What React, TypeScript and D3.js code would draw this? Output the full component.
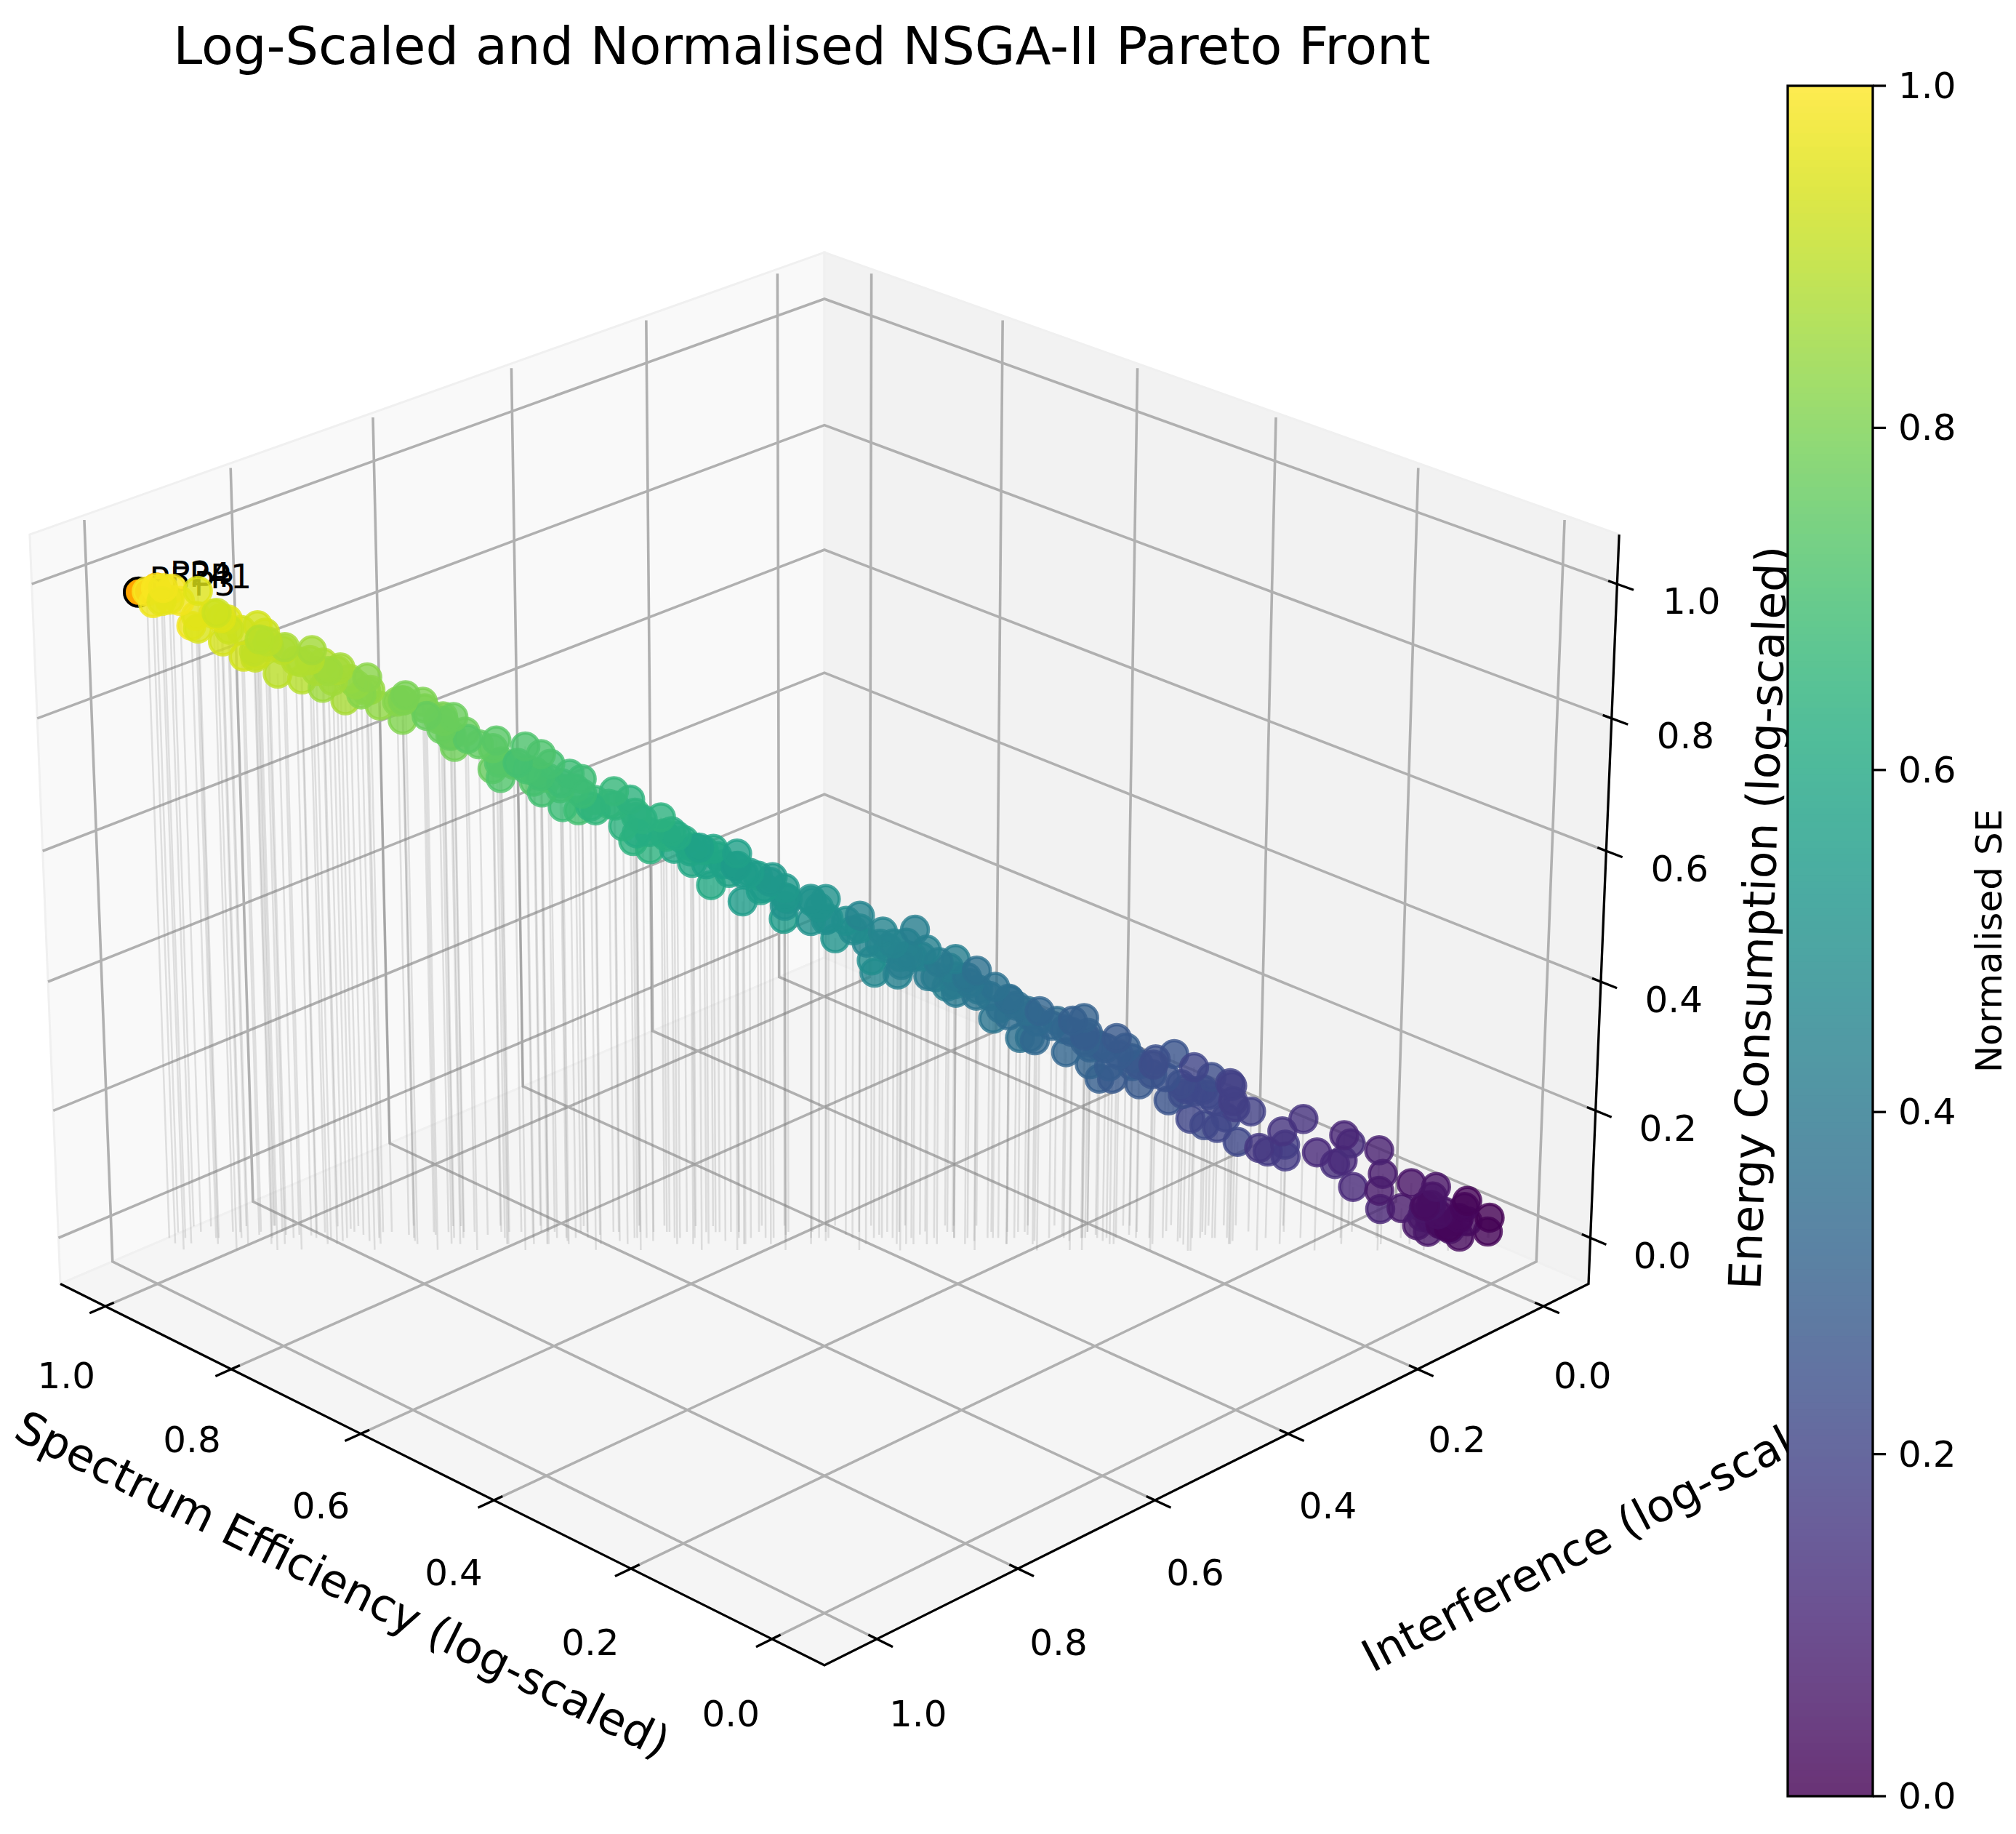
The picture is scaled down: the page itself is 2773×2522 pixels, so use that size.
import React, { useRef, useEffect } from 'react';
import * as d3 from 'd3';

// normalised objectives, ordered along the front
const seValues = [
  .990,.976,.993,.978,.992,.964,.959,.977,.953,.979,.943,.955,.953,.919,.953,.936,.921,.932,.932,.888,
  .913,.916,.893,.933,.897,.871,.889,.880,.861,.884,.869,.854,.862,.857,.869,.822,.816,.834,.833,.828,
  .794,.807,.802,.769,.798,.770,.769,.780,.792,.739,.739,.746,.726,.763,.718,.703,.717,.700,.696,.733,
  .686,.681,.687,.693,.700,.657,.651,.664,.642,.659,.637,.640,.638,.617,.640,.612,.600,.626,.616,.572,
  .597,.591,.577,.603,.564,.545,.580,.555,.550,.567,.538,.530,.537,.550,.509,.510,.509,.500,.512,.497,
  .454,.484,.457,.423,.485,.463,.436,.463,.460,.423,.435,.435,.406,.423,.418,.368,.414,.403,.385,.430,
  .374,.354,.385,.370,.406,.354,.321,.360,.348,.297,.308,.365,.334,.368,.321,.288,.313,.305,.274,.296,
  .296,.277,.313,.289,.291,.245,.237,.276,.261,.206,.234,.255,.221,.232,.219,.208,.227,.208,.188,.221,
  .199,.187,.193,.212,.157,.170,.166,.150,.176,.144,.114,.129,.114,.104,.127,.087,.074,.115,.067,.104,
  .069,.053,.053,.033,.065,.057,.058,.010,.022,.042,.014,.025,.003,.004,.072,.030,.029,.047,
  // inside of the dense stretches of the band
  .947,.928,.903,.908,.898,.888,.883,.855,.870,.850,.835,.840,.816,.801,.796,.791,.777,.762,.772,.757,
  .752,.727,.737,.707,.722,.697,.712,.687,.692,.677,.673,.668,.648,.648,.633,.623,.628,.608,.613,.588,
  .598,.588,.569,.574,.549,.559,.544,.534,.524,.519,.504,.494,.489,.479,.459,.464,.449,.454,.429,.434,
  .413,.418,.403,.393,.383,.378,.373,.358,.353,.338,.332,.327,.312,.307,.302,.287,.282,.277,.267,.257,
  .247,.230,.225,.220,.210,.190,.057,.042,.037,.052,.032,.047,.021,
];
const interferenceValues = [
  .990,.994,.975,.978,.954,.982,.997,.957,.953,.941,.963,.955,.933,.958,.914,.936,.940,.912,.892,.928,
  .913,.896,.913,.893,.897,.909,.871,.880,.881,.846,.869,.874,.842,.857,.830,.841,.855,.814,.833,.788,
  .814,.807,.783,.808,.759,.770,.788,.760,.753,.779,.739,.726,.746,.723,.718,.743,.697,.700,.716,.693,
  .686,.701,.668,.693,.661,.677,.690,.644,.642,.619,.657,.640,.618,.657,.600,.612,.620,.606,.577,.611,
  .597,.572,.596,.564,.564,.585,.560,.555,.570,.527,.538,.550,.517,.510,.549,.510,.489,.520,.472,.497,
  .494,.464,.457,.444,.445,.463,.456,.443,.419,.464,.435,.414,.426,.383,.418,.408,.394,.403,.405,.389,
  .374,.374,.365,.370,.366,.374,.362,.340,.307,.337,.308,.345,.355,.327,.321,.328,.293,.305,.294,.256,
  .296,.297,.293,.289,.251,.265,.277,.256,.219,.248,.234,.233,.243,.192,.219,.250,.207,.208,.208,.180,
  .199,.207,.172,.171,.198,.170,.146,.170,.136,.144,.155,.109,.114,.124,.087,.087,.095,.095,.108,.063,
  .069,.073,.033,.073,.024,.057,.038,.032,.022,.021,.056,.025,.003,.004,.032,.051,.008,.047,
  .928,.918,.923,.898,.888,.880,.865,.865,.840,.840,.845,.821,.806,.811,.786,.772,.777,.782,.752,.747,
  .732,.747,.717,.727,.702,.717,.692,.697,.673,.677,.663,.648,.658,.628,.633,.633,.608,.608,.593,.608,
  .579,.569,.579,.554,.569,.539,.544,.524,.534,.499,.504,.504,.479,.479,.479,.454,.449,.434,.449,.423,
  .434,.398,.403,.393,.393,.378,.353,.358,.343,.348,.332,.317,.322,.307,.292,.297,.282,.267,.267,.257,
  .247,.242,.225,.210,.210,.200,.047,.032,.047,.042,.021,.026,.032,
];
const energyValues = [
  .989,.979,.987,.994,.978,.984,.990,.967,.990,.923,.942,.953,.948,.973,.932,.915,.940,.884,.923,.934,
  .891,.920,.923,.879,.867,.922,.851,.884,.910,.868,.871,.854,.868,.856,.811,.869,.852,.811,.841,.811,
  .843,.798,.817,.820,.787,.802,.792,.749,.759,.786,.767,.727,.719,.707,.758,.750,.738,.732,.697,.688,
  .717,.675,.701,.695,.645,.670,.684,.682,.678,.641,.646,.615,.594,.644,.634,.630,.612,.613,.589,.622,
  .582,.595,.588,.531,.596,.594,.558,.567,.532,.523,.560,.562,.518,.479,.534,.527,.518,.502,.449,.497,
  .519,.473,.477,.489,.415,.414,.420,.443,.442,.444,.438,.440,.439,.417,.407,.435,.387,.383,.416,.374,
  .392,.383,.334,.359,.370,.357,.373,.346,.321,.358,.344,.304,.319,.295,.291,.335,.289,.321,.322,.280,
  .250,.259,.263,.269,.251,.289,.290,.232,.269,.287,.226,.206,.244,.234,.233,.207,.168,.173,.248,.170,
  .243,.224,.189,.132,.161,.136,.119,.177,.128,.187,.154,.107,.122,.171,.130,.138,.111,.071,.094,.026,
  .047,.096,.071,.070,.046,.020,.000,.069,.049,.004,.037,.002,.032,.010,.014,.032,.016,.052,
  .942,.928,.908,.903,.898,.883,.880,.875,.860,.855,.855,.835,.821,.831,.811,.791,.796,.782,.772,.757,
  .747,.742,.722,.732,.712,.722,.702,.707,.687,.687,.673,.663,.673,.643,.648,.633,.618,.623,.608,.608,
  .593,.584,.584,.569,.574,.554,.544,.539,.534,.514,.514,.499,.489,.479,.469,.454,.459,.429,.449,.434,
  .418,.413,.408,.398,.383,.378,.363,.363,.343,.343,.332,.322,.327,.307,.297,.302,.287,.277,.272,.257,
  .252,.247,.230,.220,.215,.210,.042,.037,.042,.026,.021,.010,.037,
];

// the two annotated solutions that still show under the front
const highlightSe = [.996, .983];
const highlightInterference = [.996, .983];
const highlightEnergy = [.988, .996];
const highlightEdge = ['#000', 'none'];

const pointNames = ['P5', 'P2', 'P4', 'P3', 'P1'];
const pointSe = [.988, .973, .959, .956, .944];
const pointInterference = [.988, .973, .959, .956, .944];
const pointEnergy = [.989, .998, .996, .983, .994];

const axisTicks = [0, 0.2, 0.4, 0.6, 0.8, 1];

const width = 2773;
const height = 2522;
const fontFamily = '"DejaVu Sans", sans-serif';

function App() {
  const svgRef = useRef<SVGSVGElement>(null);

  useEffect(() => {
    const svg = d3.select(svgRef.current);
    svg.selectAll('*').remove();

    // view_init(elev=25, azim=135), box aspect 4:4:3, camera distance 10
    const elev = (25 * Math.PI) / 180;
    const azim = (135 * Math.PI) / 180;
    const dist = 10;
    const w = [Math.cos(elev) * Math.cos(azim), Math.cos(elev) * Math.sin(azim), Math.sin(elev)];
    const un = Math.hypot(w[0], w[1]);
    const u = [-w[1] / un, w[0] / un, 0];
    const v = [w[1] * u[2] - w[2] * u[1], w[2] * u[0] - w[0] * u[2], w[0] * u[1] - w[1] * u[0]];

    const worldX = d3.scaleLinear().domain([-0.05, 1.05]).range([-0.5953, 0.5953]);
    const worldY = d3.scaleLinear().domain([-0.05, 1.05]).range([-0.5953, 0.5953]);
    const worldZ = d3.scaleLinear().domain([-0.05, 1.05]).range([-0.4464, 0.4464]);

    const screenX = d3.scaleLinear().domain([-0.1, 0.1]).range([1134 - 1222, 1134 + 1222]);
    const screenY = d3.scaleLinear().domain([-0.1, 0.1]).range([1260.4 + 1222, 1260.4 - 1222]);

    const project = (x: number, y: number, z: number): [number, number] => {
      const p = [worldX(x), worldY(y), worldZ(z)];
      const dot = (a: number[]) => a[0] * p[0] + a[1] * p[1] + a[2] * p[2];
      const depth = dist - dot(w);
      return [screenX(dot(u) / depth), screenY(dot(v) / depth)];
    };

    const lo = -0.05 - 1.1 / 48;
    const hi = 1.05 + 1.1 / 48;
    const delta = 1.1 / 12;
    const line = d3.line();

    const pane = (pts: [number, number, number][], fill: string) =>
      svg.append('path')
        .attr('d', line(pts.map(p => project(p[0], p[1], p[2]))) + 'Z')
        .attr('fill', fill)
        .attr('stroke', '#f0f0f0')
        .attr('stroke-width', 3);

    pane([[hi, lo, lo], [hi, hi, lo], [hi, hi, hi], [hi, lo, hi]], '#f9f9f9');
    pane([[lo, lo, lo], [hi, lo, lo], [hi, lo, hi], [lo, lo, hi]], '#f2f2f2');
    pane([[lo, lo, lo], [hi, lo, lo], [hi, hi, lo], [lo, hi, lo]], '#f5f5f5');

    const grid = svg.append('g').attr('fill', 'none').attr('stroke', '#b0b0b0').attr('stroke-width', 3.6);
    const polyline = (g: any, pts: [number, number, number][]) =>
      g.append('path').attr('d', line(pts.map(p => project(p[0], p[1], p[2]))));

    axisTicks.forEach(t => {
      polyline(grid, [[t, hi, lo], [t, lo, lo], [t, lo, hi - 0.007]]);
      polyline(grid, [[lo, t, lo], [hi, t, lo], [hi, t, hi - 0.007]]);
      polyline(grid, [[hi, hi, t], [hi, lo, t], [lo, lo, t]]);
    });

    const axes = svg.append('g').attr('fill', 'none').attr('stroke', '#000').attr('stroke-width', 3.3);
    polyline(axes, [[hi, hi, lo], [lo, hi, lo], [lo, lo, lo], [lo, lo, hi]]);

    const out = 0.24 * delta;
    const inn = 0.13 * delta;
    const labels = svg.append('g')
      .attr('font-family', fontFamily)
      .attr('font-size', 50)
      .attr('text-anchor', 'middle')
      .attr('dominant-baseline', 'central');

    const tickLabel = (pos: [number, number], t: number) =>
      labels.append('text').attr('x', pos[0]).attr('y', pos[1]).text(d3.format('.1f')(t));

    axisTicks.forEach(t => {
      polyline(axes, [[t, hi + out, lo], [t, hi - inn, lo]]);
      tickLabel(project(t, hi + 0.057, lo - 0.0825), t);
      polyline(axes, [[lo - out, t, lo], [lo + inn, t, lo]]);
      tickLabel(project(lo - 0.057, t, lo - 0.0825), t);
      polyline(axes, [[lo - out, lo, t], [lo + inn, lo, t]]);
      tickLabel(project(lo - 0.07, lo - 0.035, t - 0.012), t);
    });

    const axisTitle = (text: string, x: number, y: number, angle: number) =>
      svg.append('text')
        .attr('transform', `translate(${x},${y}) rotate(${angle})`)
        .attr('font-family', fontFamily)
        .attr('font-size', 61.5)
        .attr('text-anchor', 'middle')
        .attr('dominant-baseline', 'central')
        .text(text);

    axisTitle('Spectrum Efficiency (log-scaled)', 471, 2179, 26.4);
    axisTitle('Interference (log-scaled)', 2214, 2107, -27.5);
    axisTitle('Energy Consumption (log-scaled)', 2419, 1262, -87.9);

    svg.append('text')
      .attr('x', 1103)
      .attr('y', 88)
      .attr('font-family', fontFamily)
      .attr('font-size', 71.8)
      .attr('text-anchor', 'middle')
      .text('Log-Scaled and Normalised NSGA-II Pareto Front');

    // stems down to z = 0
    const stems = svg.append('g').attr('stroke', '#808080').attr('stroke-width', 2.5).attr('stroke-opacity', 0.22);
    seValues.forEach((se, i) => {
      const top = project(se, interferenceValues[i], energyValues[i]);
      const foot = project(se, interferenceValues[i], 0);
      stems.append('line').attr('x1', top[0]).attr('y1', top[1]).attr('x2', foot[0]).attr('y2', foot[1]);
    });

    highlightSe.forEach((se, i) => {
      const p = project(se, highlightInterference[i], highlightEnergy[i]);
      svg.append('circle')
        .attr('cx', p[0]).attr('cy', p[1]).attr('r', 19.5)
        .attr('fill', '#ffa500').attr('stroke', highlightEdge[i]).attr('stroke-width', 4);
    });

    pointNames.forEach((name, i) => {
      const p = project(pointSe[i], pointInterference[i], pointEnergy[i]);
      svg.append('text')
        .attr('x', p[0]).attr('y', p[1])
        .attr('font-family', fontFamily)
        .attr('font-size', 46)
        .text(name);
    });

    // far points first, like the depth sort of a 3D scatter
    const order = d3.range(seValues.length).sort((a, b) => energyValues[a] - energyValues[b]);
    const color = d3.scaleSequential(d3.interpolateViridis).domain([0, 1]);
    svg.append('g')
      .selectAll('circle')
      .data(order)
      .join('circle')
      .attr('cx', i => project(seValues[i], interferenceValues[i], energyValues[i])[0])
      .attr('cy', i => project(seValues[i], interferenceValues[i], energyValues[i])[1])
      .attr('r', 18.5)
      .attr('fill', i => color(seValues[i]))
      .attr('fill-opacity', 0.8)
      .attr('stroke', i => color(seValues[i]))
      .attr('stroke-opacity', 0.8)
      .attr('stroke-width', 4.5);

    // colorbar sits on top of the axis titles, with its own white background
    const barX = 2459;
    const barW = 117;
    const barY = d3.scaleLinear().domain([0, 1]).range([2470, 118]);
    svg.append('rect')
      .attr('x', barX).attr('y', barY(1))
      .attr('width', barW).attr('height', barY(0) - barY(1))
      .attr('fill', '#fff');
    const steps = d3.range(256);
    svg.append('g')
      .attr('opacity', 0.8)
      .selectAll('rect')
      .data(steps)
      .join('rect')
      .attr('x', barX)
      .attr('width', barW)
      .attr('y', d => barY((d + 1) / 256))
      .attr('height', d => barY(d / 256) - barY((d + 1) / 256) + 1)
      .attr('fill', d => color((d + 0.5) / 256));
    svg.append('rect')
      .attr('x', barX).attr('y', barY(1))
      .attr('width', barW).attr('height', barY(0) - barY(1))
      .attr('fill', 'none').attr('stroke', '#000').attr('stroke-width', 3.3);

    const barAxis = svg.append('g')
      .attr('font-family', fontFamily)
      .attr('font-size', 50);
    axisTicks.forEach(t => {
      barAxis.append('line')
        .attr('x1', barX + barW).attr('x2', barX + barW + 18)
        .attr('y1', barY(t)).attr('y2', barY(t))
        .attr('stroke', '#000').attr('stroke-width', 3.3);
      barAxis.append('text')
        .attr('x', 2611).attr('y', barY(t))
        .attr('dominant-baseline', 'central')
        .text(d3.format('.1f')(t));
    });
    svg.append('text')
      .attr('transform', `translate(2753,${barY(0.5)}) rotate(-90)`)
      .attr('font-family', fontFamily)
      .attr('font-size', 50)
      .attr('text-anchor', 'middle')
      .text('Normalised SE');
  }, []);

  return (
    <svg
      ref={svgRef}
      width={width}
      height={height}
      viewBox={`0 0 ${width} ${height}`}
      style={{ position: 'absolute', left: 0, top: 0, display: 'block', background: '#fff' }}
    />
  );
}

export default App;
